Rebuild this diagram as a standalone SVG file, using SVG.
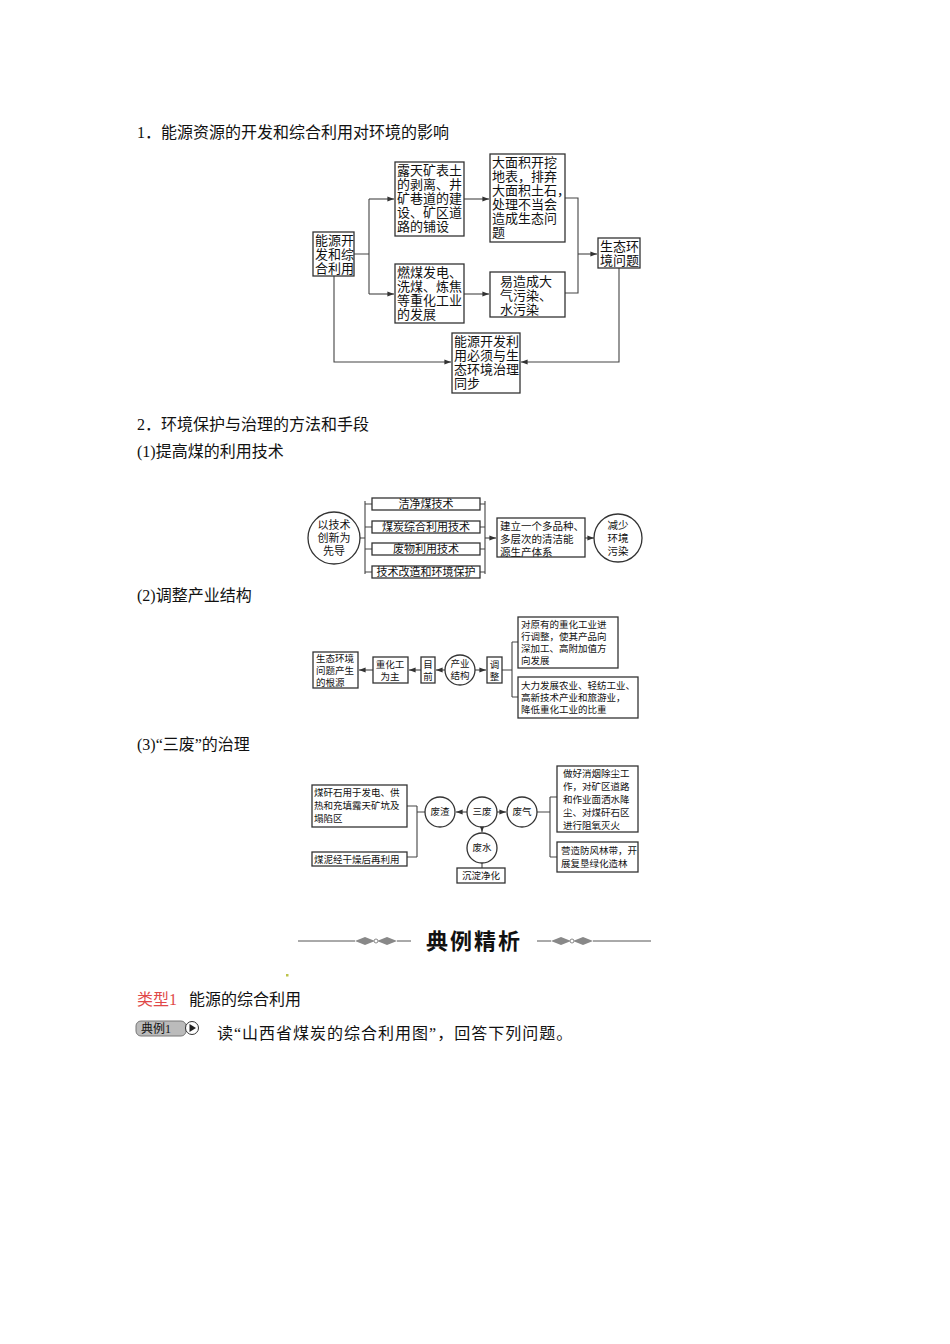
<svg xmlns="http://www.w3.org/2000/svg" width="950" height="1344" viewBox="0 0 950 1344">
<style>
text{font-family:"Liberation Serif","Noto Sans CJK SC",serif;fill:#111}
.b{fill:#fff;stroke:#333;stroke-width:1.3}
.t{font-size:13px}
.s{font-size:9.5px}
.h{font-size:16px}
.c{stroke:#444;stroke-width:1.1;fill:none}
</style>
<defs><marker id="a" viewBox="0 0 8 8" refX="8" refY="4" markerWidth="6" markerHeight="6" orient="auto"><path d="M0,1 L8,4 L0,7z" fill="#333"/></marker></defs>
<rect width="950" height="1344" fill="#fff"/>
<text class="h" x="137" y="138">1．能源资源的开发和综合利用对环境的影响</text>
<text class="h" x="137" y="430">2．环境保护与治理的方法和手段</text>
<text class="h" x="137" y="457">(1)提高煤的利用技术</text>
<text class="h" x="137" y="601">(2)调整产业结构</text>
<text class="h" x="137" y="750">(3)“三废”的治理</text>

<g id="connectors">
<path class="c" d="M354,254 H369 M369,199 V294"/>
<path class="c" d="M369,199 H394" marker-end="url(#a)"/>
<path class="c" d="M369,294 H394" marker-end="url(#a)"/>
<path class="c" d="M464,199 H489" marker-end="url(#a)"/>
<path class="c" d="M464,294 H489" marker-end="url(#a)"/>
<path class="c" d="M565,198 H578 V293 H565"/>
<path class="c" d="M578,254 H597" marker-end="url(#a)"/>
<path class="c" d="M619,268 V362 H521" marker-end="url(#a)"/>
<path class="c" d="M334,276 V362 H451" marker-end="url(#a)"/>

<path class="c" d="M360,538 H365 M365,501 V574 M365,504 H372 M365,527 H372 M365,549 H372 M365,572 H372"/>
<path class="c" d="M480,504 H485 M480,527 H485 M480,549 H485 M480,572 H485 M485,501 V574"/>
<path class="c" d="M485,538 H496" marker-end="url(#a)"/>
<path class="c" d="M585,538 H594" marker-end="url(#a)"/>

<path class="c" d="M373,670 H359" marker-end="url(#a)"/>
<path class="c" d="M421,670 H409" marker-end="url(#a)"/>
<path class="c" d="M445,670 H436" marker-end="url(#a)"/>
<path class="c" d="M475,670 H486" marker-end="url(#a)"/>
<path class="c" d="M502,670 H512 M512,642 V697 M512,642 H518 M512,697 H518"/>

<path class="c" d="M407,806 H417 M407,857 H417 M417,806 V857 M417,812 H425"/>
<path class="c" d="M467,812 H456" marker-end="url(#a)"/>
<path class="c" d="M497,812 H506" marker-end="url(#a)"/>
<path class="c" d="M482,827 V832" marker-end="url(#a)"/>
<path class="c" d="M482,863 V868"/>
<path class="c" d="M537,812 H550 M550,797 V857 M550,797 H557 M550,857 H557"/>
</g>

<g id="n1"><rect class="b" x="313" y="232" width="41" height="44"/><text class="t" x="315" y="245">能源开</text><text class="t" x="315" y="259">发和综</text><text class="t" x="315" y="273">合利用</text></g>
<g id="n2"><rect class="b" x="395" y="162" width="69" height="74"/><text class="t" x="397" y="175">露天矿表土</text><text class="t" x="397" y="189">的剥离、井</text><text class="t" x="397" y="203">矿巷道的建</text><text class="t" x="397" y="217">设、矿区道</text><text class="t" x="397" y="231">路的铺设</text></g>
<g id="n3"><rect class="b" x="490" y="154" width="75" height="88"/><text class="t" x="492" y="167">大面积开挖</text><text class="t" x="492" y="181">地表，排弃</text><text class="t" x="492" y="195">大面积土石，</text><text class="t" x="492" y="209">处理不当会</text><text class="t" x="492" y="223">造成生态问</text><text class="t" x="492" y="237">题</text></g>
<g id="n4"><rect class="b" x="395" y="264" width="69" height="59"/><text class="t" x="397" y="277">燃煤发电、</text><text class="t" x="397" y="291">洗煤、炼焦</text><text class="t" x="397" y="305">等重化工业</text><text class="t" x="397" y="319">的发展</text></g>
<g id="n5"><rect class="b" x="490" y="272" width="75" height="45"/><text class="t" x="500" y="286">易造成大</text><text class="t" x="500" y="300">气污染、</text><text class="t" x="500" y="314">水污染</text></g>
<g id="n6"><rect class="b" x="598" y="238" width="42" height="30"/><text class="t" x="600" y="251">生态环</text><text class="t" x="600" y="265">境问题</text></g>
<g id="n7"><rect class="b" x="452" y="333" width="68" height="60"/><text class="t" x="454" y="346">能源开发利</text><text class="t" x="454" y="360">用必须与生</text><text class="t" x="454" y="374">态环境治理</text><text class="t" x="454" y="388">同步</text></g>

<g id="m1"><circle class="b" cx="334" cy="538" r="26"/><text x="334" y="529" text-anchor="middle" font-size="11">以技术</text><text x="334" y="542" text-anchor="middle" font-size="11">创新为</text><text x="334" y="555" text-anchor="middle" font-size="11">先导</text></g>
<g id="m2"><rect class="b" x="372" y="498" width="108" height="12"/><text x="426" y="508" font-size="11" text-anchor="middle">洁净煤技术</text></g>
<g id="m3"><rect class="b" x="372" y="521" width="108" height="12"/><text x="426" y="531" font-size="11" text-anchor="middle">煤炭综合利用技术</text></g>
<g id="m4"><rect class="b" x="372" y="543" width="108" height="12"/><text x="426" y="553" font-size="11" text-anchor="middle">废物利用技术</text></g>
<g id="m5"><rect class="b" x="372" y="566" width="108" height="12"/><text x="426" y="576" font-size="11" text-anchor="middle">技术改造和环境保护</text></g>
<g id="m6"><rect class="b" x="497" y="518" width="88" height="39"/><text x="500" y="530" font-size="10.5">建立一个多品种、</text><text x="500" y="543" font-size="10.5">多层次的清洁能</text><text x="500" y="556" font-size="10.5">源生产体系</text></g>
<g id="m7"><circle class="b" cx="618" cy="538" r="24"/><text x="618" y="529" font-size="10.5" text-anchor="middle">减少</text><text x="618" y="542" font-size="10.5" text-anchor="middle">环境</text><text x="618" y="555" font-size="10.5" text-anchor="middle">污染</text></g>

<g id="p1"><rect class="b" x="313" y="652" width="45" height="36"/><text class="s" x="316" y="662">生态环境</text><text class="s" x="316" y="674">问题产生</text><text class="s" x="316" y="686">的根源</text></g>
<g id="p2"><rect class="b" x="373" y="657" width="35" height="26"/><text class="s" x="390" y="668" text-anchor="middle">重化工</text><text class="s" x="390" y="680" text-anchor="middle">为主</text></g>
<g id="p3"><rect class="b" x="421" y="657" width="14" height="26"/><text class="s" x="428" y="668" text-anchor="middle">目</text><text class="s" x="428" y="680" text-anchor="middle">前</text></g>
<g id="p4"><circle class="b" cx="460" cy="670" r="15"/><text class="s" x="460" y="667" text-anchor="middle">产业</text><text class="s" x="460" y="679" text-anchor="middle">结构</text></g>
<g id="p5"><rect class="b" x="487" y="657" width="15" height="26"/><text class="s" x="494.5" y="668" text-anchor="middle">调</text><text class="s" x="494.5" y="680" text-anchor="middle">整</text></g>
<g id="p6"><rect class="b" x="518" y="617" width="100" height="51"/><text class="s" x="521" y="628">对原有的重化工业进</text><text class="s" x="521" y="640">行调整，使其产品向</text><text class="s" x="521" y="652">深加工、高附加值方</text><text class="s" x="521" y="664">向发展</text></g>
<g id="p7"><rect class="b" x="518" y="677" width="120" height="41"/><text class="s" x="521" y="689">大力发展农业、轻纺工业、</text><text class="s" x="521" y="701">高新技术产业和旅游业，</text><text class="s" x="521" y="713">降低重化工业的比重</text></g>

<g id="q1"><rect class="b" x="312" y="785" width="95" height="42"/><text class="s" x="314" y="796">煤矸石用于发电、供</text><text class="s" x="314" y="809">热和充填露天矿坑及</text><text class="s" x="314" y="822">塌陷区</text></g>
<g id="q2"><rect class="b" x="312" y="852" width="95" height="14"/><text class="s" x="314" y="863">煤泥经干燥后再利用</text></g>
<g id="q3"><circle class="b" cx="440" cy="812" r="15"/><text class="s" x="440" y="815" text-anchor="middle">废渣</text></g>
<g id="q4"><circle class="b" cx="482" cy="812" r="15"/><text class="s" x="482" y="815" text-anchor="middle">三废</text></g>
<g id="q5"><circle class="b" cx="522" cy="812" r="15"/><text class="s" x="522" y="815" text-anchor="middle">废气</text></g>
<g id="q6"><circle class="b" cx="482" cy="848" r="15"/><text class="s" x="482" y="851" text-anchor="middle">废水</text></g>
<g id="q7"><rect class="b" x="457" y="868" width="48" height="15"/><text class="s" x="481" y="879" text-anchor="middle">沉淀净化</text></g>
<g id="q8"><rect class="b" x="557" y="766" width="81" height="66"/><text class="s" x="563" y="777">做好消烟除尘工</text><text class="s" x="563" y="790">作，对矿区道路</text><text class="s" x="563" y="803">和作业面洒水降</text><text class="s" x="563" y="816">尘、对煤矸石区</text><text class="s" x="563" y="829">进行阻氧灭火</text></g>
<g id="q9"><rect class="b" x="557" y="842" width="81" height="30"/><text class="s" x="561" y="854">营造防风林带，开</text><text class="s" x="561" y="867">展复垦绿化造林</text></g>

<g id="banner">
<path d="M298,941 H355 M397,941 H411 M537,941 H551 M593,941 H651" stroke="#555" stroke-width="1"/>
<path d="M355,941 l10,-4 l10,4 l-10,4z M377,941 l10,-4 l10,4 l-10,4z M551,941 l10,-4 l10,4 l-10,4z M573,941 l10,-4 l10,4 l-10,4z" fill="#888"/>
<circle cx="376" cy="941" r="2" fill="#fff" stroke="#888"/><circle cx="572" cy="941" r="2" fill="#fff" stroke="#888"/>
<text x="474" y="949" font-size="22" font-weight="bold" text-anchor="middle" font-family="Noto Sans CJK SC,sans-serif" letter-spacing="2">典例精析</text>
</g>
<rect x="286" y="974" width="2.5" height="2.5" fill="#bcc34a"/>
<text class="h" x="137" y="1005" style="fill:#e04848">类型1</text>
<text class="h" x="189" y="1005">能源的综合利用</text>
<rect x="136" y="1021" width="50" height="15" rx="5" fill="#bbb" stroke="#777"/>
<text x="141" y="1033" font-size="12">典例1</text>
<circle cx="192" cy="1028" r="6.5" fill="#fff" stroke="#333"/><path d="M189.5,1024 L196,1028 L189.5,1032z" fill="#222"/>
<text class="h" x="217" y="1039" letter-spacing="1">读“山西省煤炭的综合利用图”，回答下列问题。</text>
</svg>
